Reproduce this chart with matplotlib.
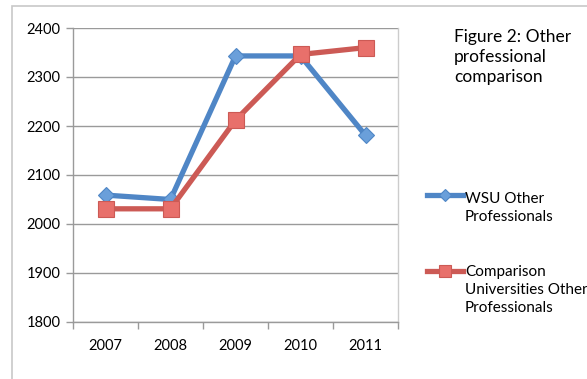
import matplotlib
matplotlib.use("Agg")
import matplotlib.pyplot as plt
from matplotlib.patches import Rectangle
from matplotlib.lines import Line2D

years = ["2007", "2008", "2009", "2010", "2011"]
wsu = [2059, 2050, 2343, 2343, 2181]
comparison = [2031, 2031, 2212, 2346, 2360]
series_names = ["WSU Other\nProfessionals", "Comparison\nUniversities Other\nProfessionals"]
title_text = "Figure 2: Other\nprofessional\ncomparison"

plt.rcParams['font.family'] = ['Lato', 'DejaVu Sans']

blue = "#4F86C6"
blue_face = "#6A9FDA"
red = "#CC5A55"
red_face = "#E8706B"
grid_c = "#9a9a9a"

fig = plt.figure(figsize=(5.87, 3.79), dpi=100)
fig.patches.append(Rectangle((12/587, -0.1), 1.2, 1 - 6/379 + 0.1, transform=fig.transFigure,
                             fill=False, edgecolor="#c8c8c8", linewidth=1.2))
ax = fig.add_axes([73/587, 1 - 322/379, (398 - 73)/587, (322 - 28)/379])

x = list(range(len(years)))
ax.plot(x, wsu, color=blue, linewidth=3.8, marker="D", markersize=8,
        markerfacecolor=blue_face, markeredgecolor=blue, markeredgewidth=0.8, zorder=3)
ax.plot(x, comparison, color=red, linewidth=3.8, marker="s", markersize=12,
        markerfacecolor=red_face, markeredgecolor=red, markeredgewidth=0.8, zorder=4)

ax.set_xlim(-0.5, 4.5)
ax.set_ylim(1800, 2400)
ax.set_yticks(range(1800, 2401, 100))
ax.set_xticks(x)
ax.set_xticklabels(years)
ax.set_xticks([i - 0.5 for i in range(6)], minor=True)
ax.tick_params(axis="x", which="major", length=0, pad=12, labelsize=10.5)
ax.tick_params(axis="x", which="minor", length=5, color=grid_c, width=1)
ax.tick_params(axis="y", length=5, color=grid_c, width=1, labelsize=10.5, pad=4)
ax.grid(axis="y", color=grid_c, linewidth=1)
ax.set_axisbelow(True)
for s in ["left", "bottom", "right"]:
    ax.spines[s].set_color(grid_c)
    ax.spines[s].set_linewidth(1)
ax.spines["right"].set_color("#cccccc")
ax.spines["top"].set_visible(False)

fig.text(454/587, 1 - 29/379, title_text, fontsize=12.5, va="top", ha="left", linespacing=1.3)

# manual legend
entries = [(blue, "D", 6, blue_face, 195, 192), (red, "s", 9, red_face, 271, 265)]
for (c, m, ms, fc, ypx, ty), name in zip(entries, series_names):
    yf = 1 - ypx/379
    fig.lines.append(Line2D([427/587, 463/587], [yf, yf], transform=fig.transFigure,
                            color=c, linewidth=3.8, marker=None))
    fig.lines.append(Line2D([445/587], [yf], transform=fig.transFigure, color=c,
                            marker=m, markersize=ms, markerfacecolor=fc, markeredgecolor=c,
                            markeredgewidth=0.8, linestyle="none"))
    fig.text(465/587, 1 - ty/379, name, fontsize=11, va="top", ha="left", linespacing=1.37)

fig.savefig("out.png", dpi=100)
